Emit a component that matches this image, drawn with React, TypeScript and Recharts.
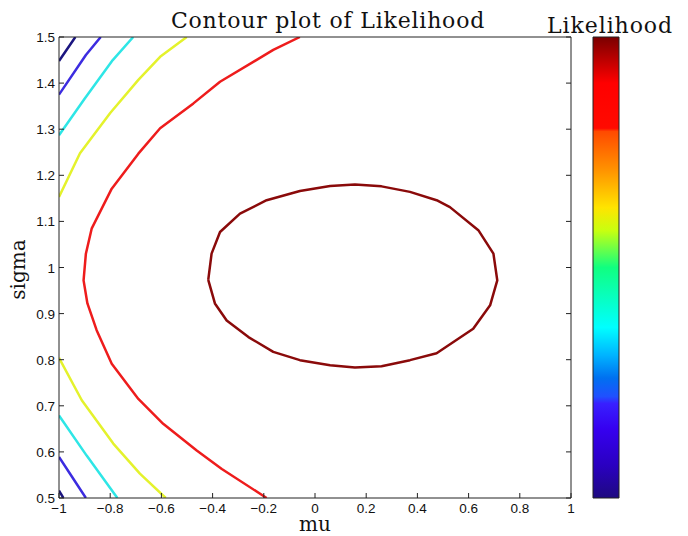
import { LineChart, Line, XAxis, YAxis, Label, BarChart, Bar } from "recharts";

// contour lines, [mu, sigma] pairs
const navyTop = [[-1, 1.448], [-0.968, 1.474], [-0.936, 1.5]];
const navyBottom = [[-1, 0.516], [-0.983, 0.5]];
const blueTop = [[-1, 1.375], [-0.895, 1.461], [-0.837, 1.5]];
const blueBottom = [[-1, 0.589], [-0.948, 0.545], [-0.895, 0.5]];
const cyanTop = [[-1, 1.287], [-0.9, 1.366], [-0.79, 1.45], [-0.71, 1.5]];
const cyanBottom = [[-1, 0.679], [-0.892, 0.592], [-0.772, 0.5]];
const yellowTop = [
  [-1, 1.153], [-0.918, 1.248], [-0.8, 1.335], [-0.69, 1.407], [-0.605, 1.457], [-0.501, 1.5],
];
const yellowBottom = [[-1, 0.804], [-0.911, 0.712], [-0.788, 0.618], [-0.684, 0.553], [-0.583, 0.5]];
const redLine = [
  [-0.059, 1.5], [-0.163, 1.472], [-0.371, 1.403], [-0.475, 1.356], [-0.605, 1.302],
  [-0.69, 1.247], [-0.794, 1.171], [-0.872, 1.085], [-0.895, 1.03], [-0.904, 0.972],
  [-0.889, 0.922], [-0.853, 0.864], [-0.794, 0.791], [-0.69, 0.715], [-0.593, 0.661],
  [-0.462, 0.603], [-0.364, 0.563], [-0.189, 0.5],
];
const darkRedLoop = [
  [-0.417, 0.973], [-0.404, 1.03], [-0.371, 1.077], [-0.293, 1.117], [-0.189, 1.146],
  [-0.059, 1.166], [0.059, 1.177], [0.156, 1.18], [0.26, 1.176], [0.371, 1.164],
  [0.475, 1.146], [0.527, 1.131], [0.638, 1.081], [0.697, 1.03], [0.712, 0.972],
  [0.684, 0.918], [0.618, 0.867], [0.475, 0.814], [0.371, 0.799], [0.26, 0.786],
  [0.156, 0.783], [0.059, 0.788], [-0.059, 0.799], [-0.163, 0.817], [-0.26, 0.849],
  [-0.345, 0.885], [-0.391, 0.922], [-0.417, 0.973],
];

const muTicks = [-1, -0.8, -0.6, -0.4, -0.2, 0, 0.2, 0.4, 0.6, 0.8, 1];
const sigmaTicks = [0.5, 0.6, 0.7, 0.8, 0.9, 1, 1.1, 1.2, 1.3, 1.4, 1.5];

// jet-like colormap of the colorbar, top (high) to bottom (low)
const colormapStops: [number, string][] = [
  [0, "#7a0000"], [0.1, "#ff0000"], [0.198, "#ff0a00"], [0.205, "#ff4a00"],
  [0.29, "#ff9400"], [0.37, "#ffe400"], [0.42, "#c8ff10"], [0.5, "#10ff80"],
  [0.63, "#00ffff"], [0.69, "#00b4ff"], [0.74, "#0070f0"], [0.78, "#2050ff"],
  [0.795, "#3820ff"], [0.85, "#3600f0"], [0.93, "#2a00c0"], [1, "#1e0a80"],
];
const colorbarData = [{ name: "Likelihood", value: 1 }];

const toPoints = (list: number[][]) => list.map(([mu, sigma]) => ({ mu, sigma }));

const NAVY = "#1b1580";
const BLUE = "#3c2ce0";
const CYAN = "#2ee6e6";
const YELLOW = "#e4f22c";
const RED = "#ee1c1c";
const DARKRED = "#8a0a0a";

const contours = [
  { id: "navyTop", color: NAVY, pts: navyTop },
  { id: "navyBottom", color: NAVY, pts: navyBottom },
  { id: "blueTop", color: BLUE, pts: blueTop },
  { id: "blueBottom", color: BLUE, pts: blueBottom },
  { id: "cyanTop", color: CYAN, pts: cyanTop },
  { id: "cyanBottom", color: CYAN, pts: cyanBottom },
  { id: "yellowTop", color: YELLOW, pts: yellowTop },
  { id: "yellowBottom", color: YELLOW, pts: yellowBottom },
  { id: "red", color: RED, pts: redLine },
  { id: "darkRed", color: DARKRED, pts: darkRedLoop },
];

const AXIS = "#222";
const TICK_LEN = 5;
const GAP = 4;
const SANS = "'Liberation Sans', Arial, sans-serif";
const SERIF = "'DejaVu Serif', serif";

const fmt = (v: number) => String(v).replace("-", "\u2212");

const BottomTick = ({ x, y, payload }: any) => (
  <g>
    <line x1={x} x2={x} y1={y - GAP} y2={y - GAP - TICK_LEN} stroke={AXIS} />
    <text x={x} y={y} dy={10.5} textAnchor="middle" fontSize={13.5} fontFamily={SANS} fill="#111">
      {fmt(payload.value)}
    </text>
  </g>
);

const LeftTick = ({ x, y, payload }: any) => (
  <g>
    <line x1={x + GAP} x2={x + GAP + TICK_LEN} y1={y} y2={y} stroke={AXIS} />
    <text x={x} y={y} dy={5} textAnchor="end" fontSize={13.5} fontFamily={SANS} fill="#111">
      {fmt(payload.value)}
    </text>
  </g>
);

const TopTick = ({ x, y }: any) => (
  <line x1={x} x2={x} y1={y} y2={y + TICK_LEN} stroke={AXIS} />
);

const RightTick = ({ x, y }: any) => (
  <line x1={x - TICK_LEN} x2={x} y1={y} y2={y} stroke={AXIS} />
);

const SigmaLabel = ({ viewBox }: any) => {
  const cx = 25;
  const cy = viewBox.y + viewBox.height / 2 + 2;
  return (
    <text
      x={cx}
      y={cy}
      transform={`rotate(-90, ${cx}, ${cy})`}
      textAnchor="middle"
      fontSize={20}
      fontFamily={SERIF}
      fill="#111"
    >
      sigma
    </text>
  );
};

export default function App() {
  return (
    <div style={{ position: "absolute", left: 0, top: 0, width: 688, height: 536, background: "#fff" }}>
      <LineChart width={688} height={536} margin={{ top: 36, right: 116, left: 0, bottom: 0 }}>
        <XAxis
          dataKey="mu"
          type="number"
          domain={[-1, 1]}
          ticks={muTicks}
          allowDataOverflow
          height={38}
          tickSize={0}
          tickMargin={GAP}
          tickLine={false}
          axisLine={{ stroke: AXIS }}
          tick={<BottomTick />}
          interval={0}
        >
          <Label value="mu" position="insideBottom" offset={5} fontSize={20} fontFamily={SERIF} fill="#111" />
        </XAxis>
        <XAxis
          xAxisId="top"
          orientation="top"
          type="number"
          domain={[-1, 1]}
          ticks={muTicks}
          allowDataOverflow
          height={1}
          tickSize={0}
          tickMargin={0}
          tickLine={false}
          axisLine={{ stroke: AXIS }}
          tick={<TopTick />}
          interval={0}
        >
          <Label
            value="Contour plot of Likelihood"
            position="top"
            offset={8}
            dx={13}
            fontSize={22}
            letterSpacing={0.8}
            fontFamily={SERIF}
            fill="#111"
          />
        </XAxis>
        <YAxis
          type="number"
          domain={[0.5, 1.5]}
          ticks={sigmaTicks}
          allowDataOverflow
          width={59}
          tickSize={0}
          tickMargin={GAP}
          tickLine={false}
          axisLine={{ stroke: AXIS }}
          tick={<LeftTick />}
          interval={0}
        >
          <Label content={<SigmaLabel />} />
        </YAxis>
        <YAxis
          yAxisId="right"
          orientation="right"
          type="number"
          domain={[0.5, 1.5]}
          ticks={sigmaTicks}
          allowDataOverflow
          width={1}
          tickSize={0}
          tickMargin={0}
          tickLine={false}
          axisLine={{ stroke: AXIS }}
          tick={<RightTick />}
          interval={0}
        />
        {contours.map((c) => (
          <Line
            key={c.id}
            data={toPoints(c.pts)}
            dataKey="sigma"
            type="linear"
            stroke={c.color}
            strokeWidth={2.5}
            strokeLinejoin="round"
            dot={false}
            activeDot={false}
            isAnimationActive={false}
          />
        ))}
      </LineChart>

      <div style={{ position: "absolute", left: 540, top: 0 }}>
        <BarChart
          width={140}
          height={536}
          data={colorbarData}
          margin={{ top: 36, right: 61, left: 53, bottom: 38 }}
          barCategoryGap={0}
        >
          <defs>
            <linearGradient id="likelihoodGrad" x1="0" y1="0" x2="0" y2="1">
              {colormapStops.map(([o, c]) => (
                <stop key={o} offset={o} stopColor={c} />
              ))}
            </linearGradient>
          </defs>
          <XAxis
            dataKey="name"
            orientation="top"
            height={1}
            axisLine={false}
            tickLine={false}
            tick={false}
          >
            <Label
              value="Likelihood"
              position="top"
              offset={3}
              dx={4}
              fontSize={22}
              letterSpacing={0.9}
              fontFamily={SERIF}
              fill="#111"
            />
          </XAxis>
          <YAxis hide domain={[0, 1]} />
          <Bar dataKey="value" fill="url(#likelihoodGrad)" stroke="#222" strokeWidth={1} isAnimationActive={false} />
        </BarChart>
      </div>
    </div>
  );
}
